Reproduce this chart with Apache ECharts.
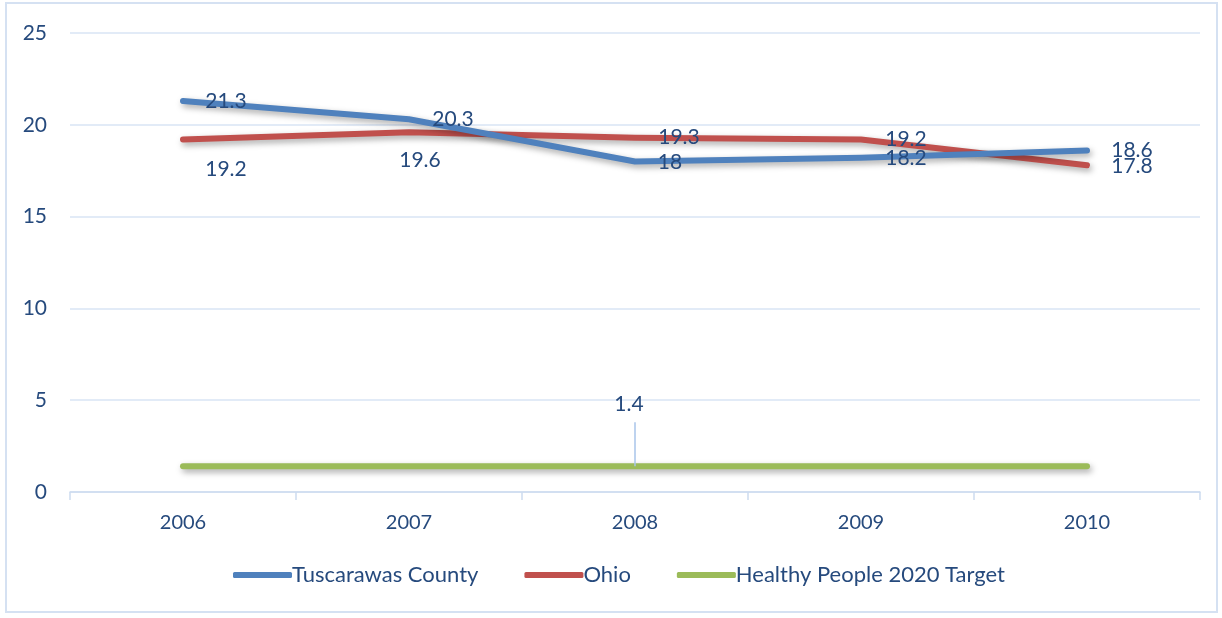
<!DOCTYPE html>
<html>
<head>
<meta charset="utf-8">
<script src="https://cdn.jsdelivr.net/npm/echarts@6/dist/echarts.min.js"></script>
<style>
  html, body { margin: 0; padding: 0; background: #fff; }
  #line { width: 1222px; height: 618px; }
</style>
</head>
<body>
<div id="line"></div>
<script>
// data
let years = ['2006', '2007', '2008', '2009', '2010'];
let tuscarawas = [21.3, 20.3, 18, 18.2, 18.6];
let ohio = [19.2, 19.6, 19.3, 19.2, 17.8];
let target = [1.4, 1.4, 1.4, 1.4, 1.4];

let textColor = '#264a7d';
let font = 'Lato';

// label offsets [dx, dy] per point, so the numbers sit like the original
let tuscOffsets = [[43, 0], [44, 0], [35, 1], [45, 0], [45, 0]];
let ohioOffsets = [[43, 30], [11, 28], [44, 0], [45, 0], [45, 1]];

function withLabels(values, offsets) {
  return values.map(function (v, i) {
    return { value: v, label: { offset: offsets[i] } };
  });
}

let chartDom = document.getElementById('line');
let myChart = echarts.init(chartDom);
let option;

let lineShadow = {
  width: 6,
  cap: 'round',
  join: 'round',
  shadowColor: 'rgba(0, 0, 0, 0.35)',
  shadowBlur: 6,
  shadowOffsetX: 2,
  shadowOffsetY: 3
};

option = {
  animation: false,
  textStyle: { fontFamily: font },
  graphic: [
    {
      type: 'rect',
      shape: { x: 6, y: 3, width: 1211, height: 609 },
      style: { fill: 'none', stroke: '#d5e1f2', lineWidth: 2 },
      z: -1
    }
  ],
  grid: { left: 70, right: 22, top: 33, bottom: 126 },
  legend: {
    bottom: 32,
    left: 233,
    padding: 0,
    itemWidth: 59,
    itemHeight: 6,
    itemGap: 46,
    icon: 'roundRect',
    textStyle: { color: textColor, fontSize: 22, fontFamily: font, padding: [0, 0, 0, -5] },
    data: ['Tuscarawas County', 'Ohio', 'Healthy People 2020 Target']
  },
  xAxis: {
    type: 'category',
    data: years,
    axisLine: { lineStyle: { color: '#cddcf0', width: 1.5 } },
    axisTick: { show: true, length: 8, lineStyle: { color: '#cddcf0', width: 1.5 } },
    axisLabel: { color: textColor, fontSize: 20, margin: 21 }
  },
  yAxis: {
    type: 'value',
    min: 0,
    max: 25,
    interval: 5,
    axisLine: { show: false },
    axisTick: { show: false },
    axisLabel: { color: textColor, fontSize: 21, margin: 23 },
    splitLine: { lineStyle: { color: '#d9e4f5', width: 1.5 } }
  },
  series: [
    {
      name: 'Tuscarawas County',
      type: 'line',
      symbol: 'circle',
      symbolSize: 0,
      color: '#4f81bd',
      lineStyle: lineShadow,
      label: { show: true, position: 'inside', color: textColor, fontSize: 21 },
      data: withLabels(tuscarawas, tuscOffsets),
      z: 3
    },
    {
      name: 'Ohio',
      type: 'line',
      symbol: 'circle',
      symbolSize: 0,
      color: '#c0504d',
      lineStyle: lineShadow,
      label: { show: true, position: 'inside', color: textColor, fontSize: 21 },
      data: withLabels(ohio, ohioOffsets),
      z: 2
    },
    {
      name: 'Healthy People 2020 Target',
      type: 'line',
      symbol: 'circle',
      symbolSize: 0,
      color: '#9bbb59',
      lineStyle: lineShadow,
      label: {
        show: true,
        position: 'inside',
        color: textColor,
        fontSize: 21,
        formatter: function (p) { return p.dataIndex === 2 ? p.value : ''; }
      },
      labelLayout: function (params) {
        if (params.dataIndex === 2) {
          return { dx: -6, dy: -62 };
        }
        return {};
      },
      // leader line from the 2008 point up to its label
      markLine: {
        silent: true,
        symbol: 'none',
        label: { show: false },
        lineStyle: { color: '#a9c4ea', width: 1.5, type: 'solid' },
        data: [[{ coord: ['2008', 1.4] }, { coord: ['2008', 3.8] }]]
      },
      data: target,
      z: 1
    }
  ]
};

option && myChart.setOption(option);
</script>
</body>
</html>
